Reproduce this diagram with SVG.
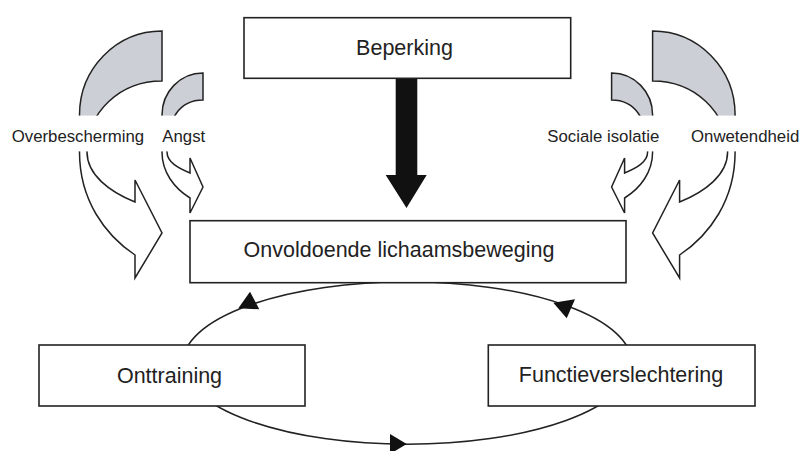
<svg xmlns="http://www.w3.org/2000/svg" width="803" height="451" viewBox="0 0 803 451">
<style>
.box{fill:#fff;stroke:#222;stroke-width:1.6}
.bt{font-family:"Liberation Sans",Arial,sans-serif;font-size:21.5px;fill:#222;text-anchor:middle}
.lt{font-family:"Liberation Sans",Arial,sans-serif;font-size:16.8px;fill:#222}
.ca{fill:url(#gw);stroke:#222;stroke-width:1.5;stroke-linejoin:miter}
.band{fill:#fff;stroke:none}
.loop{fill:none;stroke:#222;stroke-width:1.5}
.tri{fill:#111;stroke:none}
</style>
<defs>
<linearGradient id="gw" gradientUnits="userSpaceOnUse" x1="0" y1="0" x2="0" y2="451">
<stop offset="0" stop-color="#cccfd5"/>
<stop offset="0.2949" stop-color="#cccfd5"/>
<stop offset="0.2949" stop-color="#fff"/>
<stop offset="1" stop-color="#fff"/>
</linearGradient>
<path id="bigArrow" d="M162,31 C116,31 79.5,69 79.5,115 L79.5,152 C79.5,200 105,235 135,255 L135,278 L162,233 L135,180 L135,202 C110,192 87,175 87,152 C87,112 120,81 162,81 Z"/>
<path id="smallArrow" d="M203,73 C180,73 162,92 162,115 L162,152 C162,172 174,188 190,198 L190,213 L203,187 L190,158 L190,173 C178,168 167,162 167,152 C167,118 180,100 203,100 Z"/>
</defs>

<g id="connectors">
<polygon class="tri" points="395.7,78 417.3,78 417.3,175 426.7,175 406.5,208 385.7,175 395.7,175"/>
<ellipse class="loop" cx="407.3" cy="363" rx="224.5" ry="81.3"/>
<polygon class="tri" points="250,291.7 238.3,308.3 259.3,309.3"/>
<polygon class="tri" points="553.3,302.7 575,299.3 566.7,318.3"/>
<polygon class="tri" points="390,434 406.7,444 390,454"/>
</g>

<g id="overbescherming">
<use href="#bigArrow" class="ca"/>
<rect class="band" x="70" y="115.6" width="100" height="35.8"/>
<text class="lt" x="11.7" y="141.7">Overbescherming</text>
</g>
<g id="angst">
<use href="#smallArrow" class="ca"/>
<rect class="band" x="155" y="115.6" width="55" height="35.8"/>
<text class="lt" x="162.3" y="141.7">Angst</text>
</g>
<g id="onwetendheid">
<use href="#bigArrow" class="ca" transform="translate(814.6,0) scale(-1,1)"/>
<rect class="band" x="645" y="115.6" width="100" height="35.8"/>
<text class="lt" x="691" y="141.7">Onwetendheid</text>
</g>
<g id="sociale-isolatie">
<use href="#smallArrow" class="ca" transform="translate(814.6,0) scale(-1,1)"/>
<rect class="band" x="605" y="115.6" width="55" height="35.8"/>
<text class="lt" x="547.3" y="141.7">Sociale isolatie</text>
</g>

<g id="beperking">
<rect class="box" x="244" y="17.7" width="326.7" height="60.6"/>
<text class="bt" x="404.5" y="55">Beperking</text>
</g>
<g id="onvoldoende">
<rect class="box" x="190" y="220.7" width="436" height="62"/>
<text class="bt" x="399" y="256.7">Onvoldoende lichaamsbeweging</text>
</g>
<g id="onttraining">
<rect class="box" x="39" y="345" width="266" height="61"/>
<text class="bt" x="169.5" y="383">Onttraining</text>
</g>
<g id="functieverslechtering">
<rect class="box" x="488.3" y="345" width="266.7" height="61"/>
<text class="bt" x="621" y="382">Functieverslechtering</text>
</g>
</svg>
